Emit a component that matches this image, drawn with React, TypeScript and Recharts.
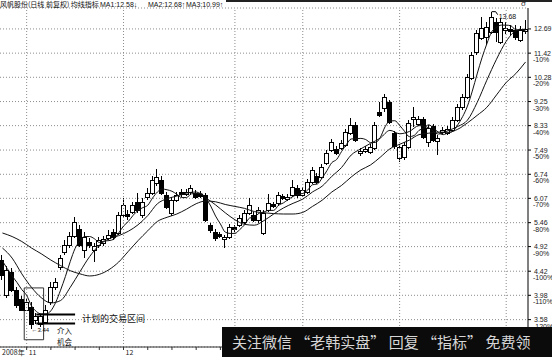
import React from "react";
import {
  Bar,
  CartesianGrid,
  ComposedChart,
  Line,
  ReferenceArea,
  ReferenceDot,
  ReferenceLine,
  XAxis,
  YAxis,
} from "recharts";

// 风帆股份 daily bars (前复权), one entry per trading day
const opens = [
  4.64, 3.99, 4.41, 4.08, 3.91, 3.74, 3.79, 3.57, 3.51, 3.54,
  3.86, 4.13, 4.51, 4.81, 4.96, 5.16, 5.31, 4.85, 5.03, 4.85,
  4.96, 5.0, 5.11, 5.25, 5.22, 5.65, 5.67, 5.72, 5.98, 5.65,
  6.11, 6.21, 6.49, 6.58, 6.16, 5.7, 6.03, 6.24, 6.19, 6.24,
  6.21, 6.19, 6.16, 5.41, 5.25, 5.2, 5.09, 5.14, 5.36, 5.41,
  5.48, 5.7, 5.65, 5.53, 5.22, 5.77, 5.93, 5.95, 6.14, 6.06,
  6.16, 6.35, 6.16, 6.24, 6.52, 6.69, 6.66, 7.08, 7.49, 7.52,
  7.56, 7.66, 8.07, 8.35, 7.39, 7.46, 7.43, 7.56, 8.84, 9.0,
  9.23, 8.07, 7.24, 7.27, 7.59, 8.57, 8.39, 8.57, 7.76, 8.32,
  7.79, 8.1, 8.07, 8.17, 8.54, 9.03, 9.44, 10.25, 11.48, 12.2,
  12.25, 12.53, 13.08, 11.99, 12.64, 12.69, 12.64, 12.1, 12.58,
];
const closes = [
  4.35, 4.45, 4.08, 3.82, 3.74, 3.86, 3.51, 3.63, 3.63, 3.74,
  4.13, 4.22, 4.68, 4.96, 5.16, 5.48, 4.96, 5.14, 4.96, 4.94,
  5.07, 5.09, 5.18, 5.14, 5.65, 5.9, 5.63, 5.9, 5.77, 5.98,
  6.21, 6.58, 6.66, 6.21, 5.85, 6.03, 6.16, 6.19, 6.24, 6.35,
  6.11, 6.14, 5.53, 5.29, 5.11, 5.16, 5.14, 5.36, 5.31, 5.58,
  5.7, 5.9, 5.53, 5.77, 5.7, 5.95, 5.87, 6.16, 6.08, 6.11,
  6.38, 6.16, 6.3, 6.52, 6.87, 6.52, 6.96, 7.39, 7.76, 7.39,
  7.72, 8.1, 8.35, 7.82, 7.46, 7.52, 7.59, 8.35, 8.72, 9.44,
  8.46, 7.63, 7.59, 7.66, 8.43, 8.65, 8.57, 7.93, 8.24, 7.82,
  7.89, 8.17, 8.21, 8.54, 9.03, 9.44, 10.29, 11.33, 12.47, 12.75,
  12.8, 13.36, 12.53, 13.08, 12.75, 12.58, 12.25, 12.64, 12.69,
];
const highs = [
  4.75, 4.53, 4.49, 4.12, 3.96, 3.91, 3.86, 3.69, 3.66, 3.82,
  4.21, 4.29, 4.75, 5.07, 5.25, 5.6, 5.41, 5.25, 5.11, 5.0,
  5.14, 5.16, 5.29, 5.31, 5.72, 6.08, 5.77, 5.98, 6.21, 6.08,
  6.35, 6.69, 6.9, 6.69, 6.24, 6.11, 6.24, 6.32, 6.32, 6.43,
  6.3, 6.27, 6.21, 5.46, 5.31, 5.25, 5.18, 5.43, 5.41, 5.65,
  5.77, 6.08, 5.72, 5.85, 5.77, 6.19, 5.98, 6.24, 6.19, 6.19,
  6.58, 6.43, 6.38, 6.61, 6.96, 6.78, 7.05, 7.49, 7.85, 7.63,
  7.82, 8.21, 8.61, 8.46, 7.56, 7.63, 7.69, 8.46, 9.23, 9.56,
  9.31, 8.14, 7.69, 7.76, 8.54, 9.03, 8.69, 8.65, 8.35, 8.39,
  8.0, 8.28, 8.32, 8.65, 9.15, 9.56, 10.43, 11.48, 12.64, 13.36,
  13.08, 13.68, 13.3, 13.3, 13.08, 12.91, 12.91, 12.86, 13.19,
];
const lows = [
  4.26, 3.94, 4.03, 3.77, 3.71, 3.71, 3.44, 3.52, 3.47, 3.51,
  3.81, 4.08, 4.45, 4.75, 4.89, 5.11, 4.92, 4.68, 4.89, 4.6,
  4.89, 4.94, 5.07, 5.07, 5.18, 5.6, 5.53, 5.67, 5.7, 5.58,
  6.03, 6.16, 6.4, 6.16, 5.8, 5.63, 5.98, 6.11, 6.14, 6.16,
  6.06, 6.08, 5.48, 5.22, 5.05, 5.11, 4.89, 5.09, 5.25, 5.36,
  5.43, 5.65, 5.48, 5.46, 5.18, 5.72, 5.82, 5.87, 6.03, 6.0,
  6.11, 6.08, 6.11, 6.19, 6.46, 6.46, 6.61, 7.02, 7.43, 7.33,
  7.49, 7.59, 8.0, 7.76, 7.3, 7.39, 7.36, 7.49, 8.65, 8.84,
  8.39, 7.52, 7.11, 7.17, 7.52, 8.28, 8.32, 7.86, 7.59, 7.76,
  7.33, 8.03, 8.0, 8.1, 8.46, 8.92, 9.35, 10.16, 11.33, 12.1,
  11.84, 12.42, 11.99, 11.89, 12.42, 12.36, 12.1, 11.99, 12.42,
];

// MA1 (5 day), every day
const ma1 = [
  4.62, 4.47, 4.33, 4.21, 4.08, 3.98, 3.8, 3.71, 3.67, 3.67,
  3.72, 3.86, 4.07, 4.32, 4.61, 4.88, 5.04, 5.14, 5.14, 5.09,
  5.01, 5.04, 5.05, 5.08, 5.22, 5.38, 5.49, 5.64, 5.76, 5.83,
  5.89, 6.08, 6.24, 6.32, 6.3, 6.26, 6.18, 6.09, 6.09, 6.19,
  6.2, 6.2, 6.07, 5.87, 5.62, 5.43, 5.24, 5.21, 5.21, 5.3,
  5.41, 5.57, 5.6, 5.69, 5.72, 5.76, 5.76, 5.89, 5.95, 6.04,
  6.12, 6.18, 6.2, 6.29, 6.44, 6.46, 6.63, 6.85, 7.09, 7.19,
  7.44, 7.67, 7.86, 7.87, 7.88, 7.84, 7.74, 7.74, 7.91, 8.29,
  8.5, 8.51, 8.34, 8.13, 7.94, 7.98, 8.16, 8.24, 8.36, 8.24,
  8.09, 8.01, 8.07, 8.13, 8.36, 8.66, 9.07, 9.68, 10.43, 11.19,
  11.89, 12.53, 12.78, 12.9, 12.9, 12.86, 12.64, 12.66, 12.58,
];

// MA2 (10 day) and MA3 (20 day), [day, value] every other day
const ma2Points: [number, number][] = [
  [0, 4.89], [2, 4.68], [4, 4.37], [6, 4.12], [8, 3.94], [10, 3.85], [12, 3.89],
  [14, 4.12], [16, 4.41], [18, 4.71], [20, 4.95], [22, 5.09], [24, 5.16], [26, 5.26],
  [28, 5.41], [30, 5.63], [32, 5.93], [34, 6.06], [36, 6.13], [38, 6.21], [40, 6.24],
  [42, 6.08], [44, 5.9], [46, 5.7], [48, 5.53], [50, 5.42], [52, 5.4], [54, 5.51],
  [56, 5.67], [58, 5.82], [60, 5.94], [62, 6.05], [64, 6.24], [66, 6.4], [68, 6.68],
  [70, 6.94], [72, 7.33], [74, 7.53], [76, 7.71], [78, 7.89], [80, 8.16], [82, 8.04],
  [84, 8.12], [86, 8.33], [88, 8.25], [90, 8.03], [92, 8.15], [94, 8.3], [96, 8.53],
  [98, 9.21], [100, 10.15], [102, 11.12], [104, 12.02], [106, 12.58], [108, 12.68],
];
const ma3Points: [number, number][] = [
  [0, 5.22], [2, 5.14], [4, 5.03], [6, 4.89], [8, 4.77], [10, 4.64], [12, 4.53],
  [14, 4.43], [16, 4.37], [18, 4.33], [20, 4.36], [22, 4.45], [24, 4.6], [26, 4.82],
  [28, 5.05], [30, 5.27], [32, 5.49], [34, 5.59], [36, 5.67], [38, 5.79], [40, 5.93],
  [42, 6.0], [44, 5.98], [46, 5.91], [48, 5.86], [50, 5.81], [52, 5.73], [54, 5.7],
  [56, 5.68], [58, 5.67], [60, 5.67], [62, 5.71], [64, 5.86], [66, 6.02], [68, 6.24],
  [70, 6.42], [72, 6.66], [74, 6.87], [76, 7.02], [78, 7.26], [80, 7.53], [82, 7.68],
  [84, 7.82], [86, 8.01], [88, 8.06], [90, 8.1], [92, 8.09], [94, 8.2], [96, 8.43],
  [98, 8.71], [100, 9.02], [102, 9.52], [104, 10.05], [106, 10.45], [108, 10.99],
];

const priceTicks = [12.69, 11.42, 10.28, 9.25, 8.33, 7.49, 6.74, 6.07, 5.46, 4.92, 4.42, 3.98, 3.58];
const pctLabels = ["", "-10%", "-20%", "-30%", "-40%", "-50%", "-60%", "-70%", "-80%", "-90%", "-100%", "-110%", "-120%"];
const weekTicks = [5, 10, 15, 20, 25, 30, 35, 40, 45, 50, 55, 60, 65, 70, 75, 80, 85, 90, 95, 100, 105];
const monthDays = [5, 25];
const monthLabels = ["11", "12"];
const gridDays = [5, 25, 48, 62, 82, 104];

// planned entry zone and the marked extremes
const zoneTop = 3.66;
const zoneBottom = 3.52;
const lowDay = 6;
const lowPrice = 3.44;
const highDay = 101;
const highPrice = 13.68;

const rows = closes.map((close, i) => ({
  day: i,
  open: opens[i],
  high: highs[i],
  low: lows[i],
  close,
  ma1: ma1[i],
  ma2: null as number | null,
  ma3: null as number | null,
}));
ma2Points.forEach(([i, v]) => (rows[i].ma2 = v));
ma3Points.forEach(([i, v]) => (rows[i].ma3 = v));

const numFont = "'Liberation Sans', Arial, sans-serif";
const cjkFont = "'Noto Sans CJK SC', sans-serif";

// bar spans low..high on a log axis, so open/close are placed in log space
const Candle = (props: any) => {
  const { x, y, width, height, payload } = props;
  const { open, close, high, low } = payload;
  const span = Math.log(high) - Math.log(low);
  const py = (v: number) => (span > 0 ? y + (height * (Math.log(high) - Math.log(v))) / span : y);
  const n = Math.round(x + width / 2);
  const up = close >= open;
  const t = Math.round(py(Math.max(open, close))) + 0.5;
  let b = Math.round(py(Math.min(open, close))) + 0.5;
  if (b - t < 1) b = t + 1;
  return (
    <g shapeRendering="crispEdges">
      <line x1={n - 0.5} x2={n - 0.5} y1={y} y2={y + height} stroke="#000" />
      <rect x={n - 2.5} y={t} width={4} height={b - t} fill={up ? "#fff" : "#000"} stroke="#000" />
    </g>
  );
};

const PriceTick = ({ x, y, payload }: any) => {
  const k = priceTicks.indexOf(payload.value);
  return (
    <g fontFamily={numFont} fontSize={7} fill="#222">
      <text x={x} y={y + 2.5}>{payload.value.toFixed(2)}</text>
      {pctLabels[k] ? <text x={x - 1} y={y + 9}>{pctLabels[k]}</text> : null}
    </g>
  );
};

const DayTick = ({ x, y, payload }: any) => {
  const k = monthDays.indexOf(payload.value);
  if (k < 0) return <g />;
  return (
    <g fontFamily={cjkFont} fontSize={7} fill="#222">
      {k === 0 ? (
        <text x={x - 2} y={y + 5} textAnchor="end">2008年</text>
      ) : null}
      <text x={x + 2} y={y + 5}>{monthLabels[k]}</text>
    </g>
  );
};

const HighMark = (p: any) => (
  <g>
    <path d={`M${p.cx},${p.cy} h4 l2,3`} stroke="#000" fill="none" />
    <text x={p.cx + 7} y={p.cy + 7} fontSize={7} fontFamily={numFont} fill="#111">
      {highPrice.toFixed(2)}
    </text>
  </g>
);

const LowMark = (p: any) => (
  <text x={p.cx} y={p.cy + 3} fontSize={6} fontFamily={numFont} fill="#111">
    {"←" + lowPrice.toFixed(2)}
  </text>
);

export default function App() {
  return (
    <div style={{ position: "relative", width: 552, height: 357, background: "#fff", overflow: "hidden" }}>
      <style>{"body{margin:0}"}</style>
      <ComposedChart width={552} height={357} data={rows} margin={{ top: 8, right: 0, bottom: 0, left: 0 }}>
        <CartesianGrid vertical={false} stroke="#8c8c8c" strokeDasharray="1 2" />
        {gridDays.map((d) => (
          <ReferenceLine key={d} x={d} stroke="#8c8c8c" strokeDasharray="1 2" />
        ))}
        <XAxis
          dataKey="day"
          type="category"
          height={10}
          ticks={weekTicks}
          interval={0}
          tickSize={3}
          tickMargin={0}
          axisLine={{ stroke: "#333" }}
          tickLine={{ stroke: "#333" }}
          tick={(p: any) => <DayTick {...p} />}
        />
        <YAxis
          orientation="right"
          scale="log"
          domain={[3.178, 13.9]}
          allowDataOverflow
          ticks={priceTicks}
          interval={0}
          width={24}
          tickSize={3}
          tickMargin={3}
          axisLine={{ stroke: "#000" }}
          tickLine={{ stroke: "#000" }}
          tick={(p: any) => <PriceTick {...p} />}
        />
        <Bar dataKey={(d: any) => [d.low, d.high]} shape={(p: any) => <Candle {...p} />} isAnimationActive={false} />
        <Line type="monotone" dataKey="ma1" stroke="#111" strokeWidth={1} dot={false} isAnimationActive={false} />
        <Line type="monotone" dataKey="ma2" stroke="#111" strokeWidth={1} dot={false} connectNulls isAnimationActive={false} />
        <Line type="monotone" dataKey="ma3" stroke="#111" strokeWidth={1} dot={false} connectNulls isAnimationActive={false} />
        <ReferenceArea x1={5} x2={8} y1={3.28} y2={4.11} fill="none" stroke="#333" strokeWidth={1} ifOverflow="visible" />
        <ReferenceLine segment={[{ x: 7, y: zoneTop }, { x: 15, y: zoneTop }]} stroke="#000" strokeWidth={2} />
        <ReferenceLine segment={[{ x: 7, y: zoneBottom }, { x: 15, y: zoneBottom }]} stroke="#000" strokeWidth={2} />
        <ReferenceDot x={highDay} y={highPrice} r={0} shape={(p: any) => <HighMark {...p} />} />
        <ReferenceDot x={lowDay} y={lowPrice} r={0} shape={(p: any) => <LowMark {...p} />} />
      </ComposedChart>

      {/* title row */}
      <div style={{ position: "absolute", left: 0, top: 0, height: 9, fontSize: 7, lineHeight: "9px", color: "#111", whiteSpace: "pre" }}>
        <span style={{ position: "absolute", left: 0, fontFamily: cjkFont }}>风帆股份(日线 前复权) 均线指标</span>
        <span style={{ position: "absolute", left: 100, fontFamily: numFont }}>MA1:12.58↓</span>
        <span style={{ position: "absolute", left: 148, fontFamily: numFont }}>MA2:12.68↑</span>
        <span style={{ position: "absolute", left: 186, fontFamily: numFont }}>MA3:10.99↑</span>
      </div>
      <div style={{ position: "absolute", left: 226, top: 0, width: 326, height: 1.5, background: "#222" }} />
      <div style={{ position: "absolute", left: 521, top: -1, fontSize: 8, fontFamily: numFont, color: "#333" }}>σ</div>

      {/* notes on the entry zone */}
      <div style={{ position: "absolute", left: 82, top: 313, fontSize: 9, lineHeight: "11px", fontFamily: cjkFont, color: "#111" }}>
        计划的交易区间
      </div>
      <div style={{ position: "absolute", left: 57, top: 325, fontSize: 7.5, lineHeight: "11px", fontFamily: cjkFont, color: "#111" }}>
        介入
      </div>
      <div style={{ position: "absolute", left: 57, top: 336, fontSize: 7.5, lineHeight: "11px", fontFamily: cjkFont, color: "#111" }}>
        机会
      </div>

      <div
        style={{
          position: "absolute",
          left: 222,
          top: 327,
          width: 330,
          height: 30,
          background: "#0b0b0b",
          color: "#d6d6d6",
          fontFamily: cjkFont,
          fontSize: 15,
          lineHeight: "30px",
          paddingLeft: 10,
          boxSizing: "border-box",
          whiteSpace: "pre",
        }}
      >
        关注微信 “老韩实盘” 回复 “指标” 免费领
      </div>
    </div>
  );
}
